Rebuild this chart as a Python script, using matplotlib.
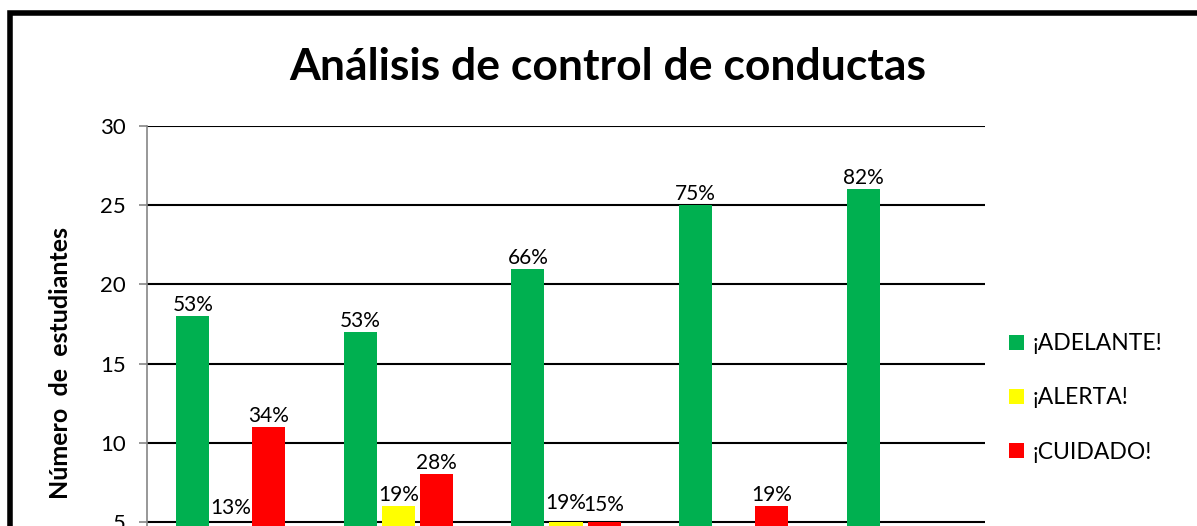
import numpy as np
import matplotlib
matplotlib.use("Agg")
import matplotlib.pyplot as plt
from matplotlib.patches import Patch, Rectangle

# datos del grafico
categorias = ["1", "2", "3", "4", "5"]
series = ["¡ADELANTE!", "¡ALERTA!", "¡CUIDADO!"]
adelante = [18, 17, 21, 25, 26]
alerta = [4, 6, 5, 2, 3]
cuidado = [11, 8, 5, 6, 3]
# las etiquetas de las barras mas bajas quedan fuera de la imagen recortada
etiq_adelante = ["53%", "53%", "66%", "75%", "82%"]
etiq_alerta = ["13%", "19%", "19%", "", ""]
etiq_cuidado = ["34%", "28%", "15%", "19%", ""]
y_ticks = [0, 5, 10, 15, 20, 25, 30]

colores = ["#00B050", "#FFFF00", "#FF0000"]
# desplazamiento extra de algunas etiquetas (px)
dy_alerta = [20, 1, 9, 1, 1]
dy_cuidado = [1, 1, 7, 1, 1]
dy_adelante = [1, 1, 1, 1, 1]

plt.rcParams['font.family'] = ['Lato', 'DejaVu Sans']

W, H = 1197, 526
fig = plt.figure(figsize=(W / 100, H / 100), dpi=100)

# marco negro del grafico
fig.patches.append(Rectangle((10 / W, -0.2), 1.5, 1.2 - 13 / H, transform=fig.transFigure,
                             fill=False, edgecolor="black", linewidth=4))

# el eje sigue por debajo de la imagen (recortada)
ax = fig.add_axes([147 / W, 1 - 601 / H, 838 / W, 475 / H])
x = np.arange(len(categorias))
ancho = 0.197
desp = 0.227
valores = [adelante, alerta, cuidado]
etiquetas = [etiq_adelante, etiq_alerta, etiq_cuidado]
dys = [dy_adelante, dy_alerta, dy_cuidado]
for i, (vals, col) in enumerate(zip(valores, colores)):
    pos = x + (i - 1) * desp
    ax.bar(pos, vals, width=ancho, color=col, edgecolor="none", zorder=3, label=series[i])
    for xp, v, t, d in zip(pos, vals, etiquetas[i], dys[i]):
        if t == "":
            continue
        ax.annotate(t, (xp, v), xytext=(0, d * 0.72), textcoords="offset points",
                    ha="center", va="bottom", fontsize=15, zorder=4)

ax.set_xlim(-0.5, len(categorias) - 0.5)
ax.set_ylim(0, 30)
ax.set_yticks(y_ticks)
ax.set_xticks(x)
ax.set_xticklabels([])
ax.tick_params(axis="x", length=0)
ax.tick_params(axis="y", labelsize=16, color="#868686", length=6, width=1.2, pad=9)
ax.yaxis.grid(True, color="black", linewidth=1.5, zorder=0)
ax.set_axisbelow(True)
for s in ["top", "right", "bottom"]:
    ax.spines[s].set_visible(False)
ax.spines["left"].set_color("#868686")
ax.spines["left"].set_linewidth(1.2)

fig.text(608 / W, 1 - 80 / H, "Análisis de control de conductas", ha="center", va="baseline",
         fontsize=32, fontweight="bold")
fig.text(61 / W, 1 - 363 / H, "Número  de  estudiantes", rotation=90, ha="center", va="center",
         fontsize=18, fontweight="bold")

handles = [Patch(facecolor=c, edgecolor="none") for c in colores]
fig.legend(handles, series, loc="center left", bbox_to_anchor=(988 / W, 1 - 398 / H),
           frameon=False, fontsize=16.5, handlelength=0.65, handleheight=0.65,
           handletextpad=0.4, labelspacing=1.45)

fig.savefig("out.png", dpi=100)
